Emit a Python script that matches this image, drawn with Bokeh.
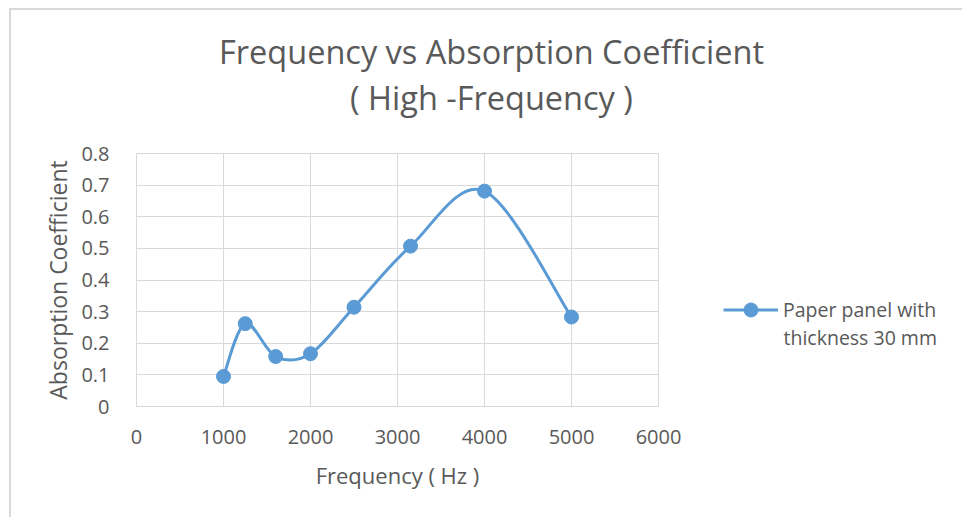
import numpy as np
from bokeh.plotting import figure
from bokeh.layouts import column, row
from bokeh.models import (FixedTicker, Legend, LegendItem, ColumnDataSource,
                          Range1d, Label)
from bokeh.embed import file_html
from bokeh.resources import INLINE

# ---- data ----
freq = [1000, 1250, 1600, 2000, 2500, 3150, 4000, 5000]
absorption = [0.095, 0.262, 0.158, 0.167, 0.314, 0.507, 0.681, 0.283]
x_ticks = [0, 1000, 2000, 3000, 4000, 5000, 6000]
x_tick_labels = ["0", "1000", "2000", "3000", "4000", "5000", "6000"]
y_ticks = [0, 0.1, 0.2, 0.3, 0.4, 0.5, 0.6, 0.7, 0.8]
y_tick_labels = ["0", "0.1", "0.2", "0.3", "0.4", "0.5", "0.6", "0.7", "0.8"]
title_lines = ["Frequency vs Absorption Coefficient", "( High -Frequency )"]
x_title = "Frequency ( Hz )"
y_title = "Absorption Coefficient"
series_lines = ["Paper panel with", "thickness 30 mm"]

FONT = "Open Sans"
TXT = "#595959"
GRID = "#d9d9d9"
BLUE = "#5b9bd5"

TOTAL_W = 951
TITLE_H = 120
MAIN_W, MAIN_H = 689, 387
LEG_W = TOTAL_W - MAIN_W


def bare(fig):
    fig.xgrid.visible = False
    fig.ygrid.visible = False
    fig.outline_line_color = None
    fig.background_fill_color = "white"
    fig.border_fill_color = "white"


# ---- title strip ----
t = figure(width=TOTAL_W, height=TITLE_H, output_backend="svg", toolbar_location=None,
           x_range=Range1d(0, 1), y_range=Range1d(0, 1),
           x_axis_type=None, y_axis_type=None,
           min_border=0, min_border_left=0, min_border_right=0,
           min_border_top=0, min_border_bottom=0)
bare(t)
for txt, yy in zip(title_lines, [79.0, 33.0]):
    t.add_layout(Label(x=480, y=yy, x_units="screen", y_units="screen",
                       text=txt, text_align="center", text_baseline="alphabetic",
                       text_font=FONT, text_font_size="32.5px", text_color=TXT))

# ---- main chart ----
p = figure(width=MAIN_W, height=MAIN_H, output_backend="svg", toolbar_location=None,
           x_range=Range1d(0, 6000), y_range=Range1d(0, 0.8),
           min_border_left=125, min_border_right=42,
           min_border_top=23, min_border_bottom=111)
p.background_fill_color = "white"
p.border_fill_color = "white"
p.outline_line_color = GRID
p.outline_line_width = 1

p.xaxis.ticker = FixedTicker(ticks=x_ticks)
p.yaxis.ticker = FixedTicker(ticks=y_ticks)
p.xaxis.major_label_overrides = dict(zip(x_ticks, x_tick_labels))
p.yaxis.major_label_overrides = dict(zip(y_ticks, y_tick_labels))
for ax in (p.xaxis[0], p.yaxis[0]):
    ax.major_tick_line_color = None
    ax.minor_tick_line_color = None
    ax.axis_line_color = GRID
    ax.major_label_text_font = FONT
    ax.major_label_text_font_size = "20px"
    ax.major_label_text_color = TXT
    ax.axis_label_text_font = FONT
    ax.axis_label_text_font_style = "normal"
    ax.axis_label_text_color = TXT
p.xaxis.axis_label_text_font_size = "22px"
p.yaxis.axis_label_text_font_size = "23px"
p.xaxis.major_label_standoff = 17
p.yaxis.major_label_standoff = 21
p.xaxis.axis_label = x_title
p.yaxis.axis_label = y_title
p.xaxis.axis_label_standoff = 13
p.yaxis.axis_label_standoff = 4

p.xgrid.ticker = FixedTicker(ticks=x_ticks)
p.ygrid.ticker = FixedTicker(ticks=y_ticks)
p.xgrid.grid_line_color = GRID
p.ygrid.grid_line_color = GRID

# smoothed line (Catmull-Rom style Bezier through the data points)
xa = np.array(freq, dtype=float)
ya = np.array(absorption, dtype=float)
xp = np.concatenate([[xa[0]], xa, [xa[-1]]])
yp = np.concatenate([[ya[0]], ya, [ya[-1]]])
n = len(xa) - 1
bz = ColumnDataSource(dict(
    x0=xa[:-1], y0=ya[:-1], x1=xa[1:], y1=ya[1:],
    cx0=xp[1:n+1] + (xp[2:n+2] - xp[0:n]) / 6.0,
    cy0=yp[1:n+1] + (yp[2:n+2] - yp[0:n]) / 6.0,
    cx1=xp[2:n+2] - (xp[3:n+3] - xp[1:n+1]) / 6.0,
    cy1=yp[2:n+2] - (yp[3:n+3] - yp[1:n+1]) / 6.0,
))
p.bezier(x0="x0", y0="y0", x1="x1", y1="y1", cx0="cx0", cy0="cy0",
         cx1="cx1", cy1="cy1", source=bz, line_color=BLUE, line_width=3)
pts = ColumnDataSource(dict(x=freq, y=absorption))
p.scatter(x="x", y="y", source=pts, size=14, fill_color=BLUE,
          line_color=BLUE, marker="circle")

# ---- legend panel ----
lg = figure(width=LEG_W, height=MAIN_H, output_backend="svg", toolbar_location=None,
            x_range=Range1d(0, 1), y_range=Range1d(0, 1),
            x_axis_type=None, y_axis_type=None,
            min_border=0, min_border_left=0, min_border_right=0,
            min_border_top=0, min_border_bottom=0)
bare(lg)
# same series drawn in this panel (outside its view) so the legend shows its style
l_line = lg.line(x=freq, y=absorption, line_color=BLUE, line_width=3)
l_pts = lg.scatter(x=freq, y=absorption, size=14, fill_color=BLUE,
                   line_color=BLUE, marker="circle")
leg = Legend(items=[LegendItem(label=series_lines[0], renderers=[l_line, l_pts])],
             location=(23, 79.5), orientation="vertical",
             border_line_color=None, background_fill_alpha=0,
             padding=0, margin=0, glyph_width=55, glyph_height=35,
             label_standoff=5, label_text_font=FONT,
             label_text_font_size="19.5px", label_text_color=TXT)
lg.add_layout(leg)
lg.add_layout(Label(x=83, y=69, x_units="screen", y_units="screen",
                    text=series_lines[1], text_align="left", text_baseline="middle",
                    text_font=FONT, text_font_size="19.5px", text_color=TXT))

layout = column(t, row(p, lg, spacing=0), spacing=0)
layout.styles = {"margin-left": "9px", "margin-top": "8px",
                 "border-left": "2px solid #d9d9d9", "border-top": "2px solid #d9d9d9"}

open("out.html", "w").write(file_html(layout, INLINE))
